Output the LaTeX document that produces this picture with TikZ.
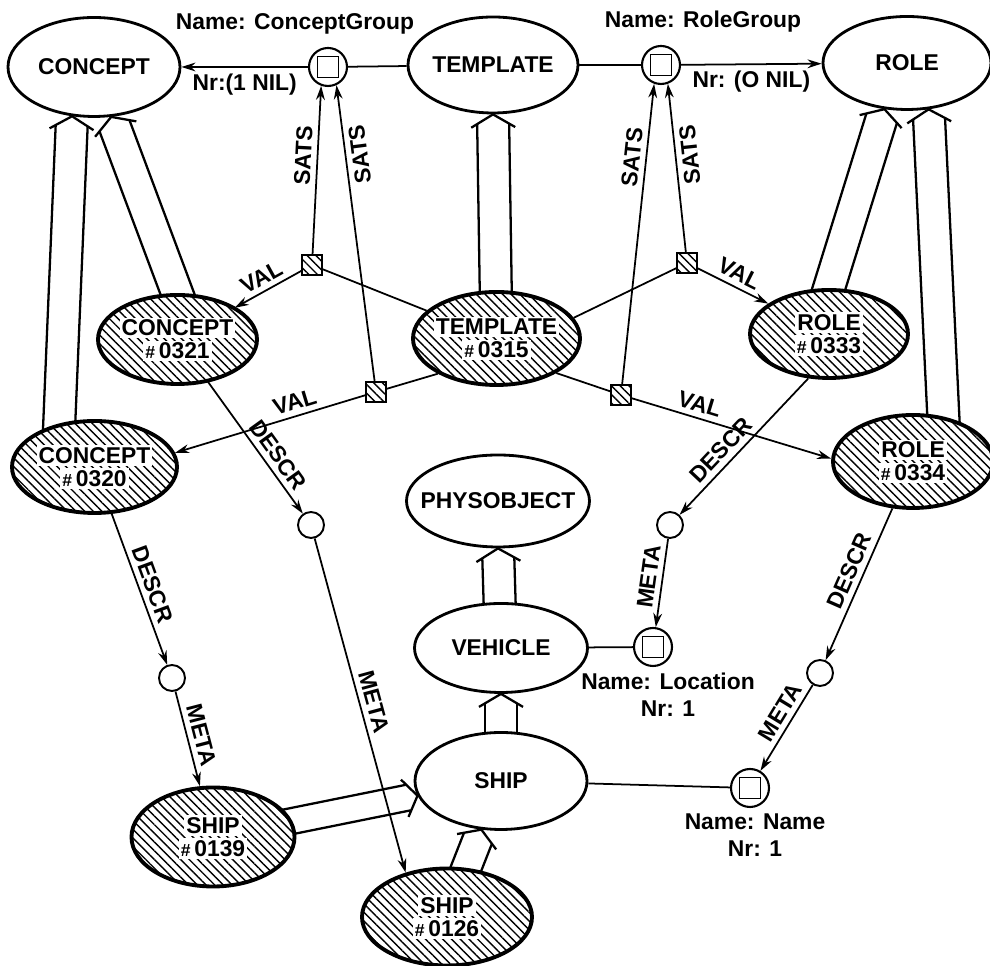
\documentclass[tikz,border=0pt]{standalone}
\usepackage{fontspec}
\setmainfont{Liberation Sans}
\usetikzlibrary{calc,positioning,backgrounds,shapes.geometric,patterns.meta,arrows.meta}

\setlength{\fboxsep}{1.2pt}
\newcommand{\nowidth}[1]{\makebox[0pt]{#1}}
\newcommand{\onhatch}[2]{\makebox[0pt]{\colorbox{white}{#1}}\\\makebox[0pt]{\colorbox{white}{#2}}}
\newcommand{\indno}[1]{{\fontsize{10}{10}\selectfont\#}\,#1}

% double lined specialisation arrow, tail #2, head #3, half width #1
\newcommand{\isa}[3][0.32cm]{%
  \coordinate (isa-t) at (#2);
  \coordinate (isa-h) at (#3);
  \coordinate (isa-s) at ($(isa-t)!-0.4cm!(isa-h)$);
  \coordinate (isa-m) at ($(isa-h)!0.19cm!(isa-t)$);
  \coordinate (isa-b) at ($(isa-h)!0.26cm!(isa-t)$);
  \draw[isaline] ($(isa-s)!#1!90:(isa-h)$) -- ($(isa-m)!#1!-90:(isa-t)$);
  \draw[isaline] ($(isa-s)!#1!-90:(isa-h)$) -- ($(isa-m)!#1!90:(isa-t)$);
  \draw[isaline] ($(isa-b)!#1+0.12cm!-90:(isa-t)$) -- (isa-h) -- ($(isa-b)!#1+0.12cm!90:(isa-t)$);
}

\begin{document}
\begin{tikzpicture}[
  font=\fontsize{13}{13}\selectfont\bfseries,
  >={Stealth[length=8pt,width=5pt]},
  generic/.style={ellipse, draw, line width=1.6pt, fill=white, inner sep=0pt},
  individual/.style={ellipse, draw, line width=2.2pt, inner sep=0pt, align=center,
    preaction={fill=white}, pattern={Lines[angle=-45,distance=3.5pt,line width=0.8pt]}},
  rolenode/.style={circle, draw, line width=1.2pt, fill=white, minimum size=0.76cm, inner sep=0pt,
    path picture={\draw[line width=1pt] ([shift={(-0.21,-0.21)}]path picture bounding box.center) rectangle ++(0.42,0.42);}},
  valuebox/.style={rectangle, draw, line width=0.8pt, minimum size=0.4cm, inner sep=0pt,
    preaction={fill=white}, pattern={Lines[angle=-45,distance=3.5pt,line width=0.8pt]}},
  stub/.style={circle, draw, line width=1.1pt, fill=white, minimum size=0.52cm, inner sep=0pt},
  link/.style={line width=1pt},
  isaline/.style={line width=1.3pt, line join=round},
  lbl/.style={sloped, inner sep=3pt},
  twoline/.style={align=center, font=\fontsize{13}{15}\selectfont\bfseries}
]
\useasboundingbox (0,0) rectangle (19.8,19.32);

% generic concepts
\node[generic, minimum width=3.44cm, minimum height=1.98cm] (concept) at (1.88,17.98) {\nowidth{CONCEPT}};
\node[generic, minimum width=3.4cm, minimum height=1.92cm] (template) at (9.86,18.02) {\nowidth{TEMPLATE}};
\node[generic, minimum width=3.36cm, minimum height=1.86cm] (role) at (18.14,18.06) {\nowidth{ROLE}};
\node[generic, minimum width=3.66cm, minimum height=1.84cm] (physobj) at (9.96,9.30) {\nowidth{PHYSOBJECT}};
\node[generic, minimum width=3.46cm, minimum height=1.78cm] (vehicle) at (10.02,6.36) {\nowidth{VEHICLE}};
\node[generic, minimum width=3.44cm, minimum height=1.94cm] (ship) at (10.02,3.70) {\nowidth{SHIP}};

% individual concepts
\node[individual, minimum width=3.18cm, minimum height=1.78cm] (c321) at (3.55,12.53) {\onhatch{CONCEPT}{\indno{0321}}};
\node[individual, minimum width=3.34cm, minimum height=1.86cm] (t315) at (9.93,12.55) {\onhatch{TEMPLATE}{\indno{0315}}};
\node[individual, minimum width=3.16cm, minimum height=1.76cm] (r333) at (16.58,12.64) {\onhatch{ROLE}{\indno{0333}}};
\node[individual, minimum width=3.3cm, minimum height=1.84cm] (c320) at (1.89,9.98) {\onhatch{CONCEPT}{\indno{0320}}};
\node[individual, minimum width=3.2cm, minimum height=1.86cm] (r334) at (18.26,10.09) {\onhatch{ROLE}{\indno{0334}}};
\node[individual, minimum width=3.26cm, minimum height=1.98cm] (ship139) at (4.26,2.58) {\onhatch{SHIP}{\indno{0139}}};
\node[individual, minimum width=3.4cm, minimum height=1.94cm] (ship126) at (8.94,0.98) {\onhatch{SHIP}{\indno{0126}}};

% roles
\node[rolenode] (cgroup) at (6.56,17.98) {};
\node[rolenode] (rgroup) at (13.22,18.02) {};
\node[rolenode] (loc) at (13.06,6.38) {};
\node[rolenode] (name) at (15.00,3.56) {};
\node[above=0.12cm of cgroup, xshift=-0.66cm] (cgname) {Name: ConceptGroup};
\node[above=0.12cm of rgroup, xshift=0.84cm] (rgname) {Name: RoleGroup};
\node[twoline, below=0pt of loc, xshift=0.3cm] (locname) {Name: Location\\Nr: 1};
\node[twoline, below=0pt of name, xshift=0.1cm] (namename) {Name: Name\\Nr: 1};

% value boxes and description stubs
\node[valuebox] (v1) at (6.24,14.02) {};
\node[valuebox] (v2) at (13.74,14.06) {};
\node[valuebox] (v3) at (7.52,11.48) {};
\node[valuebox] (v4) at (12.42,11.42) {};
\node[stub] (d320) at (3.44,5.76) {};
\node[stub] (d321) at (6.22,8.82) {};
\node[stub] (d333) at (13.40,8.82) {};
\node[stub] (d334) at (16.40,5.86) {};

\begin{scope}[on background layer]
  \isa{c320.129}{concept.246}
  \isa{c321.north}{concept.289}
  \isa{t315}{template.south}
  \isa{r333.north}{role.244}
  \isa{r334.56}{role.295}
  \isa{vehicle}{physobj.south}
  \isa{ship}{vehicle.south}
  \isa[0.26cm]{ship139}{ship.190}
  \isa[0.3cm]{ship126}{ship.248}

  \draw[link, ->] (cgroup) -- node[below] (nr1) {Nr:(1 NIL)} (concept);
  \draw[link] (template) -- (cgroup);
  \draw[link] (template) -- (rgroup);
  \draw[link, ->] (rgroup) -- node[below] (nr2) {Nr: (O NIL)} (role);

  \draw[link] (t315) -- (v1);
  \draw[link, ->] (v1) -- node[lbl, above] {VAL} (c321);
  \draw[link, ->] (v1) -- node[lbl, above, pos=0.58] {SATS} (cgroup.250);
  \draw[link] (t315.211) -- (v3);
  \draw[link, ->] (v3) -- node[lbl, above, pos=0.35] {VAL} (c320.10);
  \draw[link, ->] (v3) -- node[lbl, allow upside down, below, pos=0.76] {SATS} (cgroup.295);
  \draw[link] (t315.15) -- (v2);
  \draw[link, ->] (v2) -- node[lbl, above] {VAL} (r333);
  \draw[link, ->] (v2) -- node[lbl, allow upside down, below, pos=0.57] {SATS} (rgroup.290);
  \draw[link] (t315.330) -- (v4);
  \draw[link, ->] (v4) -- node[lbl, above, pos=0.32] {VAL} (r334.178);
  \draw[link, ->] (v4) -- node[lbl, above, pos=0.75] {SATS} (rgroup.250);

  \draw[link, ->] (c320) -- node[lbl, above] {DESCR} (d320);
  \draw[link, ->] (d320) -- node[lbl, above] {META} (ship139);
  \draw[link, ->] (c321) -- node[lbl, above, pos=0.62] {DESCR} (d321);
  \draw[link, ->] (d321) -- node[lbl, above] {META} (ship126.133);
  \draw[link, ->] (r333.245) -- node[lbl, above, pos=0.6] {DESCR} (d333);
  \draw[link, ->] (d333) -- node[lbl, above, pos=0.45] {META} (loc);
  \draw[link, ->] (r334) -- node[lbl, above, pos=0.45] {DESCR} (d334);
  \draw[link, ->] (d334) -- node[lbl, above, pos=0.4] {META} (name);

  \draw[link] (vehicle) -- (loc);
  \draw[link] (ship) -- (name);
\end{scope}
\end{tikzpicture}
\end{document}
